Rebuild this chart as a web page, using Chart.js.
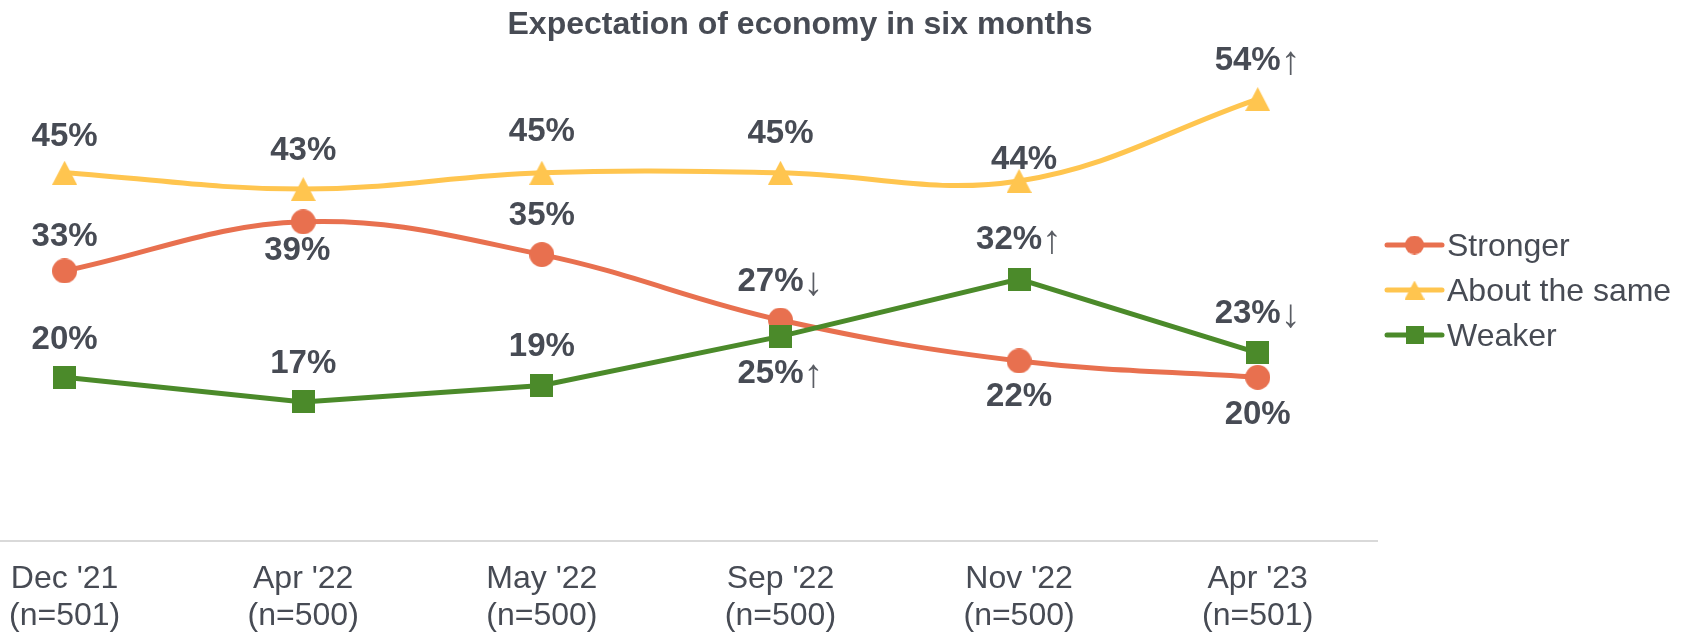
<!DOCTYPE html>
<html><head><meta charset="utf-8">
<script src="https://cdn.jsdelivr.net/npm/chart.js@4.4.0/dist/chart.umd.min.js"></script>
<style>html,body{margin:0;padding:0;background:#fff;}canvas{display:block;}</style>
</head><body>
<canvas id="c" width="1688" height="633"></canvas>
<script>
// ---- data ----
const categories = ["Dec '21", "Apr '22", "May '22", "Sep '22", "Nov '22", "Apr '23"];
const sampleSizes = ["(n=501)", "(n=500)", "(n=500)", "(n=500)", "(n=500)", "(n=501)"];
const seriesNames = ["Stronger", "About the same", "Weaker"];
const stronger  = [33, 39, 35, 27, 22, 20];
const aboutSame = [45, 43, 45, 45, 44, 54];
const weaker    = [20, 17, 19, 25, 32, 23];
const strongerArrows  = ["", "", "", "↓", "", ""];
const aboutSameArrows = ["", "", "", "", "", "↑"];
const weakerArrows    = ["", "", "", "↑", "↑", "↓"];
const yRange = [0, 60];

// ---- label placement (pixel offsets of label centre from its point) ----
const labelPlacement = {
  Stronger:         { dx: [0, -6, 0, 0, 0, 0], dy: [-37, 26, -42, -41, 33, 35] },
  "About the same": { dx: [0, 0, 0, 0, 5, 0],  dy: [-39, -41, -44, -42, -24, -41] },
  Weaker:           { dx: [0, 0, 0, 0, 0, 0],  dy: [-40, -41, -42, 35, -42, -42] }
};

const TEXT = '#474b54';
const ARROW = '#5a5d64';
const COLORS = { Stronger: '#e8704f', "About the same": '#ffc54f', Weaker: '#4b8a2a' };
const FONT = '"Liberation Sans", Arial, sans-serif';
const LABEL_SIZE = 33;

function makeMarker(shape, color, w, h) {
  const c = document.createElement('canvas'); c.width = w; c.height = h;
  const g = c.getContext('2d'); g.fillStyle = color; g.beginPath();
  if (shape === 'circle') { g.arc(w / 2, h / 2, w / 2, 0, Math.PI * 2); }
  else if (shape === 'triangle') { g.moveTo(w / 2, 0); g.lineTo(w, h); g.lineTo(0, h); g.closePath(); }
  else { g.rect(0, 0, w, h); }
  g.fill();
  return c;
}
const markers = {
  Stronger: makeMarker('circle', COLORS.Stronger, 25, 25),
  "About the same": makeMarker('triangle', COLORS["About the same"], 25, 24),
  Weaker: makeMarker('rect', COLORS.Weaker, 23, 23)
};
const legendMarkers = {
  Stronger: makeMarker('circle', COLORS.Stronger, 19, 19),
  "About the same": makeMarker('triangle', COLORS["About the same"], 20, 19),
  Weaker: makeMarker('rect', COLORS.Weaker, 18, 18)
};

const seriesValues = [stronger, aboutSame, weaker];
const seriesArrows = [strongerArrows, aboutSameArrows, weakerArrows];
const tensions = [0.38, 0.38, 0];
const drawOrder = [1, 2, 0];

const datasets = seriesNames.map((name, s) => ({
  label: name,
  data: seriesValues[s].map((v, i) => ({ x: i, y: v })),
  borderColor: COLORS[name],
  backgroundColor: COLORS[name],
  borderWidth: 5,
  tension: tensions[s],
  pointStyle: markers[name],
  pointRadius: 12,
  order: drawOrder[s],
  arrows: seriesArrows[s]
}));

const titlePlugin = {
  id: 'titleText',
  afterDraw(chart) {
    const ctx = chart.ctx; ctx.save();
    ctx.font = 'bold 32px ' + FONT; ctx.fillStyle = TEXT;
    ctx.textAlign = 'center'; ctx.textBaseline = 'alphabetic';
    ctx.fillText('Expectation of economy in six months', 800, 34);
    ctx.restore();
  }
};

const labelsPlugin = {
  id: 'pointLabels',
  afterDatasetsDraw(chart) {
    const ctx = chart.ctx; ctx.save();
    chart.data.datasets.forEach((ds, s) => {
      const meta = chart.getDatasetMeta(s);
      const place = labelPlacement[ds.label];
      meta.data.forEach((pt, i) => {
        const num = ds.data[i].y + '%';
        const arrow = ds.arrows[i];
        ctx.font = 'bold ' + LABEL_SIZE + 'px ' + FONT;
        const wNum = ctx.measureText(num).width;
        ctx.font = '40px ' + FONT;
        const wArr = arrow ? ctx.measureText(arrow).width : 0;
        const total = wNum + wArr;
        const cx = pt.x + place.dx[i];
        const base = pt.y + place.dy[i] + 12;
        const x0 = cx - total / 2;
        ctx.textAlign = 'left'; ctx.textBaseline = 'alphabetic';
        ctx.font = 'bold ' + LABEL_SIZE + 'px ' + FONT; ctx.fillStyle = TEXT;
        ctx.fillText(num, x0, base);
        if (arrow) {
          ctx.font = '40px ' + FONT; ctx.fillStyle = ARROW;
          ctx.fillText(arrow, x0 + wNum, base + 4);
        }
      });
    });
    ctx.restore();
  }
};

const legendPlugin = {
  id: 'lineLegend',
  afterDraw(chart) {
    const ctx = chart.ctx; ctx.save();
    const x0 = 1387, x1 = 1442, tx = 1447;
    seriesNames.forEach((name, k) => {
      const y = 245 + k * 45;
      ctx.strokeStyle = COLORS[name]; ctx.lineWidth = 5; ctx.lineCap = 'round';
      ctx.beginPath(); ctx.moveTo(x0, y); ctx.lineTo(x1, y); ctx.stroke();
      const m = legendMarkers[name];
      ctx.drawImage(m, (x0 + x1) / 2 - m.width / 2, y - m.height / 2);
      ctx.font = '32px ' + FONT; ctx.fillStyle = TEXT;
      ctx.textAlign = 'left'; ctx.textBaseline = 'alphabetic';
      ctx.fillText(name, tx, y + 11);
    });
    ctx.restore();
  }
};

new Chart(document.getElementById('c'), {
  type: 'line',
  data: { datasets },
  plugins: [titlePlugin, labelsPlugin, legendPlugin],
  options: {
    responsive: false,
    animation: false,
    devicePixelRatio: 1,
    layout: { autoPadding: false, padding: { top: 50, right: 311, left: 0, bottom: 0 } },
    plugins: { legend: { display: false }, title: { display: false }, tooltip: { enabled: false } },
    scales: {
      x: {
        type: 'linear',
        min: -0.2707,
        max: 5.5,
        afterBuildTicks(scale) { scale.ticks = categories.map((c, i) => ({ value: i })); },
        afterFit(scale) { scale.height = 92; scale.paddingLeft = 0; scale.paddingRight = 0; },
        ticks: {
          autoSkip: false,
          maxRotation: 0,
          padding: 12,
          color: TEXT,
          font: { family: FONT, size: 32, lineHeight: '37px' },
          callback: (v) => [categories[v], sampleSizes[v]]
        },
        grid: { display: false },
        border: { display: true, color: '#d9d9d9', width: 2 }
      },
      y: {
        display: false,
        min: yRange[0],
        max: yRange[1]
      }
    }
  }
});
</script>
</body></html>
